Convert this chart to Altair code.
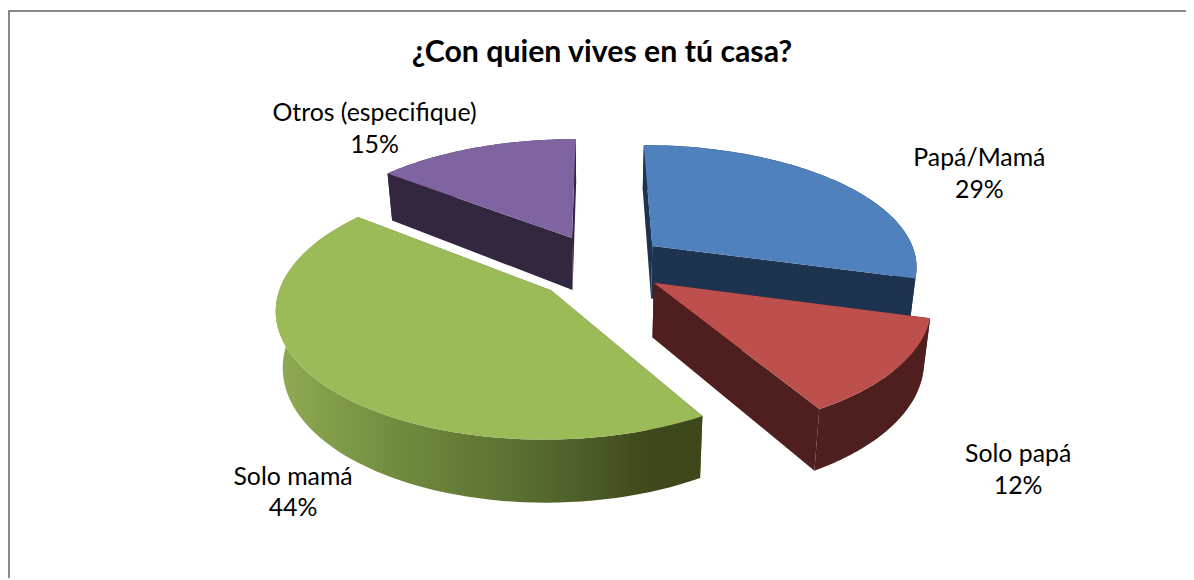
import math
import altair as alt

names = ["Papá/Mamá", "Solo papá", "Solo mamá", "Otros (especifique)"]
shares = [29.2, 12.2, 44.0, 14.6]
top_colors = ["#4f81bd", "#bd4f4c", "#9bbb59", "#8064a2"]
wall_colors = ["#1e3350", "#4e1f1e", "#5a6e30", "#32273f"]
title_text = "¿Con quien vives en tú casa?"

# Layout of the tilted, exploded pie
explode = [(58, -42), (57, 37), (-44, 52), (-25, -60)]
radii = [268, 270, 266, 270]
label_pos = [(986, 157), (1025, 455), (295, 478), (377, 112)]
TILT, PERSP, DEPTH, VX, VY, TAPER = 0.47, 0.00055, 54, 600, 265, 0.022
PAD_TOP = 70
W, H = 1186, 502


def project(x, y, z):
    s = 1 + PERSP * y
    zs = 1 - TAPER * z
    return [VX + x * s * zs, VY + y * TILT * s + z * DEPTH * s]


def feature(ring, i):
    return {"type": "Feature", "properties": {"name": names[i]},
            "geometry": {"type": "Polygon", "coordinates": [ring + [ring[0]]]}}


total = sum(shares)


def shape(feat, **kw):
    return alt.Chart(alt.InlineData(values=[feat])).mark_geoshape(strokeWidth=0, **kw).project(
        type="identity", scale=1, translate=[-8, -8 - PAD_TOP])


green_side = alt.LinearGradient(
    gradient="linear", x1=0, x2=1, y1=0, y2=0,
    stops=[alt.GradientStop(offset=0, color="#8fab52"),
           alt.GradientStop(offset=0.3, color="#6f8a3e"),
           alt.GradientStop(offset=0.62, color="#566a2f"),
           alt.GradientStop(offset=0.88, color="#3e481c"),
           alt.GradientStop(offset=1, color="#3e481c")])

starts = [sum(shares[:i]) / total * 2 * math.pi for i in range(len(shares))]
layers = []
for i in [0, 3, 1, 2]:
    a0 = starts[i]
    a1 = a0 + shares[i] / total * 2 * math.pi
    ox, oy = explode[i]
    R = radii[i]
    n = 72
    arc = [(ox + R * math.sin(a0 + (a1 - a0) * k / n), oy - R * math.cos(a0 + (a1 - a0) * k / n))
           for k in range(n + 1)]
    top = [project(ox, oy, 0)] + [project(x, y, 0) for x, y in arc]
    outer = [project(x, y, 0) for x, y in arc] + [project(x, y, 1) for x, y in reversed(arc)]
    for p in (arc[0], arc[-1]):
        wall = [project(ox, oy, 0), project(p[0], p[1], 0), project(p[0], p[1], 1), project(ox, oy, 1)]
        layers.append(shape(feature(wall, i), fill=wall_colors[i]))
    layers.append(shape(feature(outer, i), fill=green_side if i == 2 else wall_colors[i]))
    layers.append(shape(feature(top, i), fill=top_colors[i]))

for i, (lx, ly) in enumerate(label_pos):
    text = f"{names[i]}\n{round(shares[i])}%"
    layers.append(
        alt.Chart(alt.InlineData(values=[{"label": text}])).mark_text(
            font="Lato", fontSize=25, color="#000000", align="center", baseline="middle",
            lineBreak="\n", lineHeight=32
        ).encode(text="label:N", x=alt.value(lx - 8), y=alt.value(ly - 8 - PAD_TOP))
    )

rule = alt.Chart(alt.InlineData(values=[{"a": 1}])).mark_rule(color="#8a8a8a", strokeWidth=2)
layers.append(rule.encode(x=alt.value(1), y=alt.value(-PAD_TOP), y2=alt.value(H)))
layers.append(rule.encode(x=alt.value(0), x2=alt.value(W), y=alt.value(-PAD_TOP + 1)))

chart = alt.layer(*layers).properties(
    width=W, height=H,
    padding={"left": 0, "top": PAD_TOP, "right": 0, "bottom": 0},
    autosize=alt.AutoSizeParams(type="none"),
    background="#ffffff",
    title=alt.TitleParams(title_text, font="Lato", fontSize=30.5, fontWeight="bold",
                          color="#000000", anchor="middle", offset=-60, dx=5),
).configure_view(stroke=None)

chart.save("out.html", embed_options={"renderer": "svg", "actions": False})
